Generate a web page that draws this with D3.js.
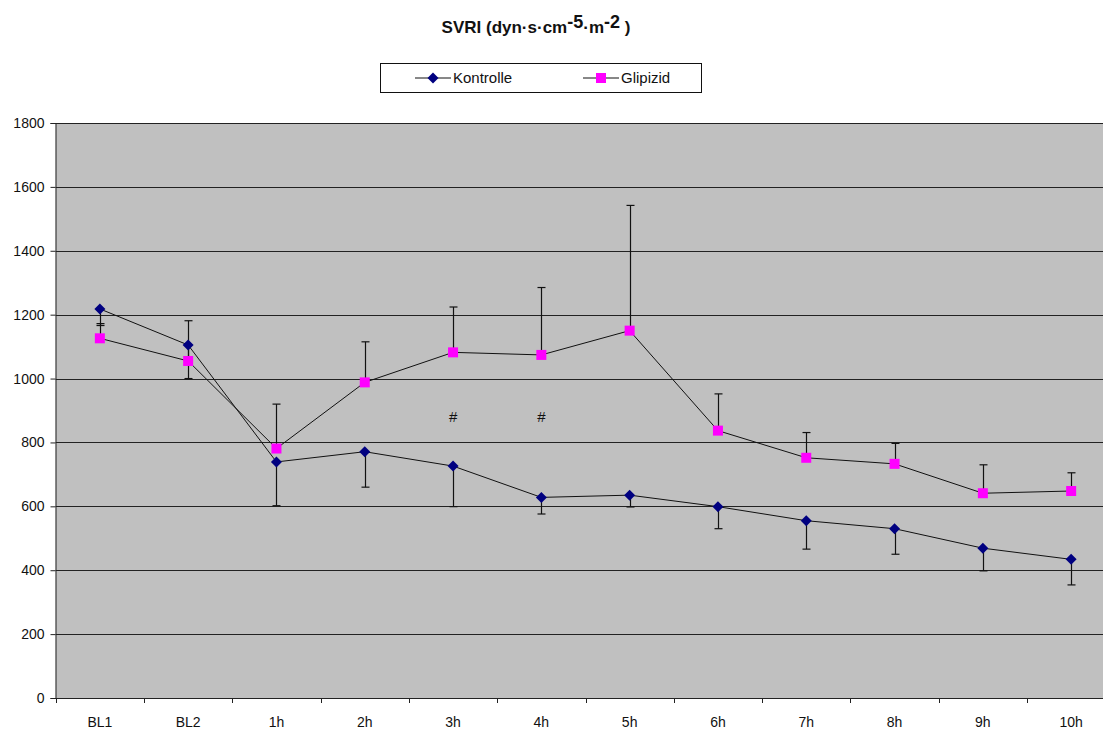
<!DOCTYPE html>
<html>
<head>
<meta charset="utf-8">
<script src="https://cdn.jsdelivr.net/npm/d3@7/dist/d3.min.js"></script>
<style>
  html, body { margin: 0; padding: 0; background: #fff; }
  svg { display: block; font-family: "Liberation Sans", Arial, sans-serif; }
</style>
</head>
<body>
<svg id="chart" width="1103" height="731"></svg>
<script>
// Time points
const categories = ["BL1", "BL2", "1h", "2h", "3h", "4h", "5h", "6h", "7h", "8h", "9h", "10h"];

// SVRI means and standard deviations
const kontrolle    = [1218, 1105, 739, 771, 726, 628, 635, 599, 555, 530, 469, 434];
const kontrolleSD  = [52, 105, 137, 111, 127, 52, 37, 69, 89, 80, 71, 80];
const glipizid     = [1126, 1055, 781, 988, 1082, 1074, 1150, 837, 752, 733, 641, 648];
const glipizidSD   = [46, 126, 139, 127, 142, 211, 392, 115, 79, 64, 89, 57];

// Significance markers (#) shown at these time points
const sigCategories = ["3h", "4h"];
const sigLevel = 881;

const yTicks = [0, 200, 400, 600, 800, 1000, 1200, 1400, 1600, 1800];

const svg = d3.select("#chart");

const plot = { left: 55.7, right: 1115.3, top: 123, bottom: 698 };

const x = d3.scaleBand().domain(categories).range([plot.left, plot.right]).padding(0);
const y = d3.scaleLinear().domain([0, 1800]).range([plot.bottom, plot.top]);
const cx = c => x(c) + x.bandwidth() / 2;

// Plot background
svg.append("rect")
  .attr("x", plot.left).attr("y", plot.top)
  .attr("width", plot.right - plot.left).attr("height", plot.bottom - plot.top)
  .attr("fill", "#c0c0c0");

// Horizontal gridlines
svg.append("g").selectAll("line").data(yTicks.filter(d => d > 0)).join("line")
  .attr("x1", plot.left).attr("x2", plot.right)
  .attr("y1", d => Math.round(y(d)) + 0.5).attr("y2", d => Math.round(y(d)) + 0.5)
  .attr("stroke", "#222").attr("stroke-width", 1);

// Y axis
const yAxis = d3.axisLeft(y).tickValues(yTicks).tickSize(5).tickPadding(6).tickFormat(d3.format("d"));
const gy = svg.append("g").attr("transform", `translate(${Math.round(plot.left) - 0.5},0)`).call(yAxis);
gy.select(".domain").attr("stroke", "#222");
gy.selectAll(".tick line").attr("stroke", "#222");
gy.selectAll(".tick text").attr("font-size", 14).attr("fill", "#111")
  .attr("font-family", "'Liberation Sans', Arial, sans-serif");

// X axis: ticks between categories, labels centred in each band
const gx = svg.append("g");
gx.append("line")
  .attr("x1", plot.left).attr("x2", plot.right)
  .attr("y1", plot.bottom + 0.5).attr("y2", plot.bottom + 0.5)
  .attr("stroke", "#222");
const boundaries = categories.map(c => x(c)).concat([plot.right]);
gx.selectAll("line.tick").data(boundaries).join("line").attr("class", "tick")
  .attr("x1", d => Math.round(d) + 0.5).attr("x2", d => Math.round(d) + 0.5)
  .attr("y1", plot.bottom).attr("y2", plot.bottom + 5)
  .attr("stroke", "#222");
gx.selectAll("text").data(categories).join("text")
  .attr("x", d => cx(d)).attr("y", 727)
  .attr("text-anchor", "middle").attr("font-size", 14).attr("fill", "#111")
  .text(d => d);

// Series lines
const line = d3.line().x((d, i) => cx(categories[i])).y(d => y(d));
[kontrolle, glipizid].forEach(vals => {
  svg.append("path").datum(vals).attr("d", line)
    .attr("fill", "none").attr("stroke", "#111").attr("stroke-width", 1);
});

// Error bars: Kontrolle downward, Glipizid upward
function errorBars(vals, sds, dir) {
  const g = svg.append("g").attr("stroke", "#111").attr("stroke-width", 1.2);
  vals.forEach((v, i) => {
    const px = Math.round(cx(categories[i])) + 0.5;
    const end = y(v + dir * sds[i]);
    g.append("line").attr("x1", px).attr("x2", px).attr("y1", y(v)).attr("y2", end);
    g.append("line").attr("x1", px - 4).attr("x2", px + 4).attr("y1", end).attr("y2", end);
  });
}
errorBars(kontrolle, kontrolleSD, -1);
errorBars(glipizid, glipizidSD, 1);

// Markers
const diamond = "M0,-5.5L5.5,0L0,5.5L-5.5,0Z";
svg.append("g").selectAll("path").data(kontrolle).join("path")
  .attr("d", diamond)
  .attr("transform", (d, i) => `translate(${cx(categories[i])},${y(d)})`)
  .attr("fill", "#000080");
svg.append("g").selectAll("rect").data(glipizid).join("rect")
  .attr("x", (d, i) => cx(categories[i]) - 5).attr("y", d => y(d) - 5)
  .attr("width", 10).attr("height", 10)
  .attr("fill", "#ff00ff");

// Significance markers
svg.append("g").selectAll("text").data(sigCategories).join("text")
  .attr("x", d => cx(d)).attr("y", y(sigLevel) + 5)
  .attr("text-anchor", "middle").attr("font-size", 15).attr("fill", "#111")
  .text("#");

// Title with superscripts
const title = svg.append("text").attr("x", 536).attr("y", 33)
  .attr("text-anchor", "middle").attr("font-size", 17).attr("font-weight", "bold").attr("fill", "#111");
title.append("tspan").text("SVRI (dyn·s·cm");
title.append("tspan").attr("dy", -5).attr("font-size", 18).text("-5");
title.append("tspan").attr("dy", 5).text("·m");
title.append("tspan").attr("dy", -5).attr("font-size", 18).text("-2");
title.append("tspan").attr("dy", 5).text(" )");

// Legend
const legend = svg.append("g");
legend.append("rect").attr("x", 380.5).attr("y", 63.5).attr("width", 321).attr("height", 29)
  .attr("fill", "#fff").attr("stroke", "#111").attr("stroke-width", 1);
const legendItems = [
  { name: "Kontrolle", x0: 415, type: "diamond" },
  { name: "Glipizid", x0: 583, type: "square" }
];
legendItems.forEach(it => {
  const ly = 78;
  legend.append("line").attr("x1", it.x0).attr("x2", it.x0 + 36).attr("y1", ly).attr("y2", ly)
    .attr("stroke", "#111").attr("stroke-width", 1);
  if (it.type === "diamond") {
    legend.append("path").attr("d", diamond).attr("transform", `translate(${it.x0 + 18},${ly})`).attr("fill", "#000080");
  } else {
    legend.append("rect").attr("x", it.x0 + 13).attr("y", ly - 5).attr("width", 10).attr("height", 10).attr("fill", "#ff00ff");
  }
  legend.append("text").attr("x", it.x0 + 38).attr("y", ly + 5)
    .attr("font-size", 15).attr("fill", "#111").text(it.name);
});
</script>
</body>
</html>
